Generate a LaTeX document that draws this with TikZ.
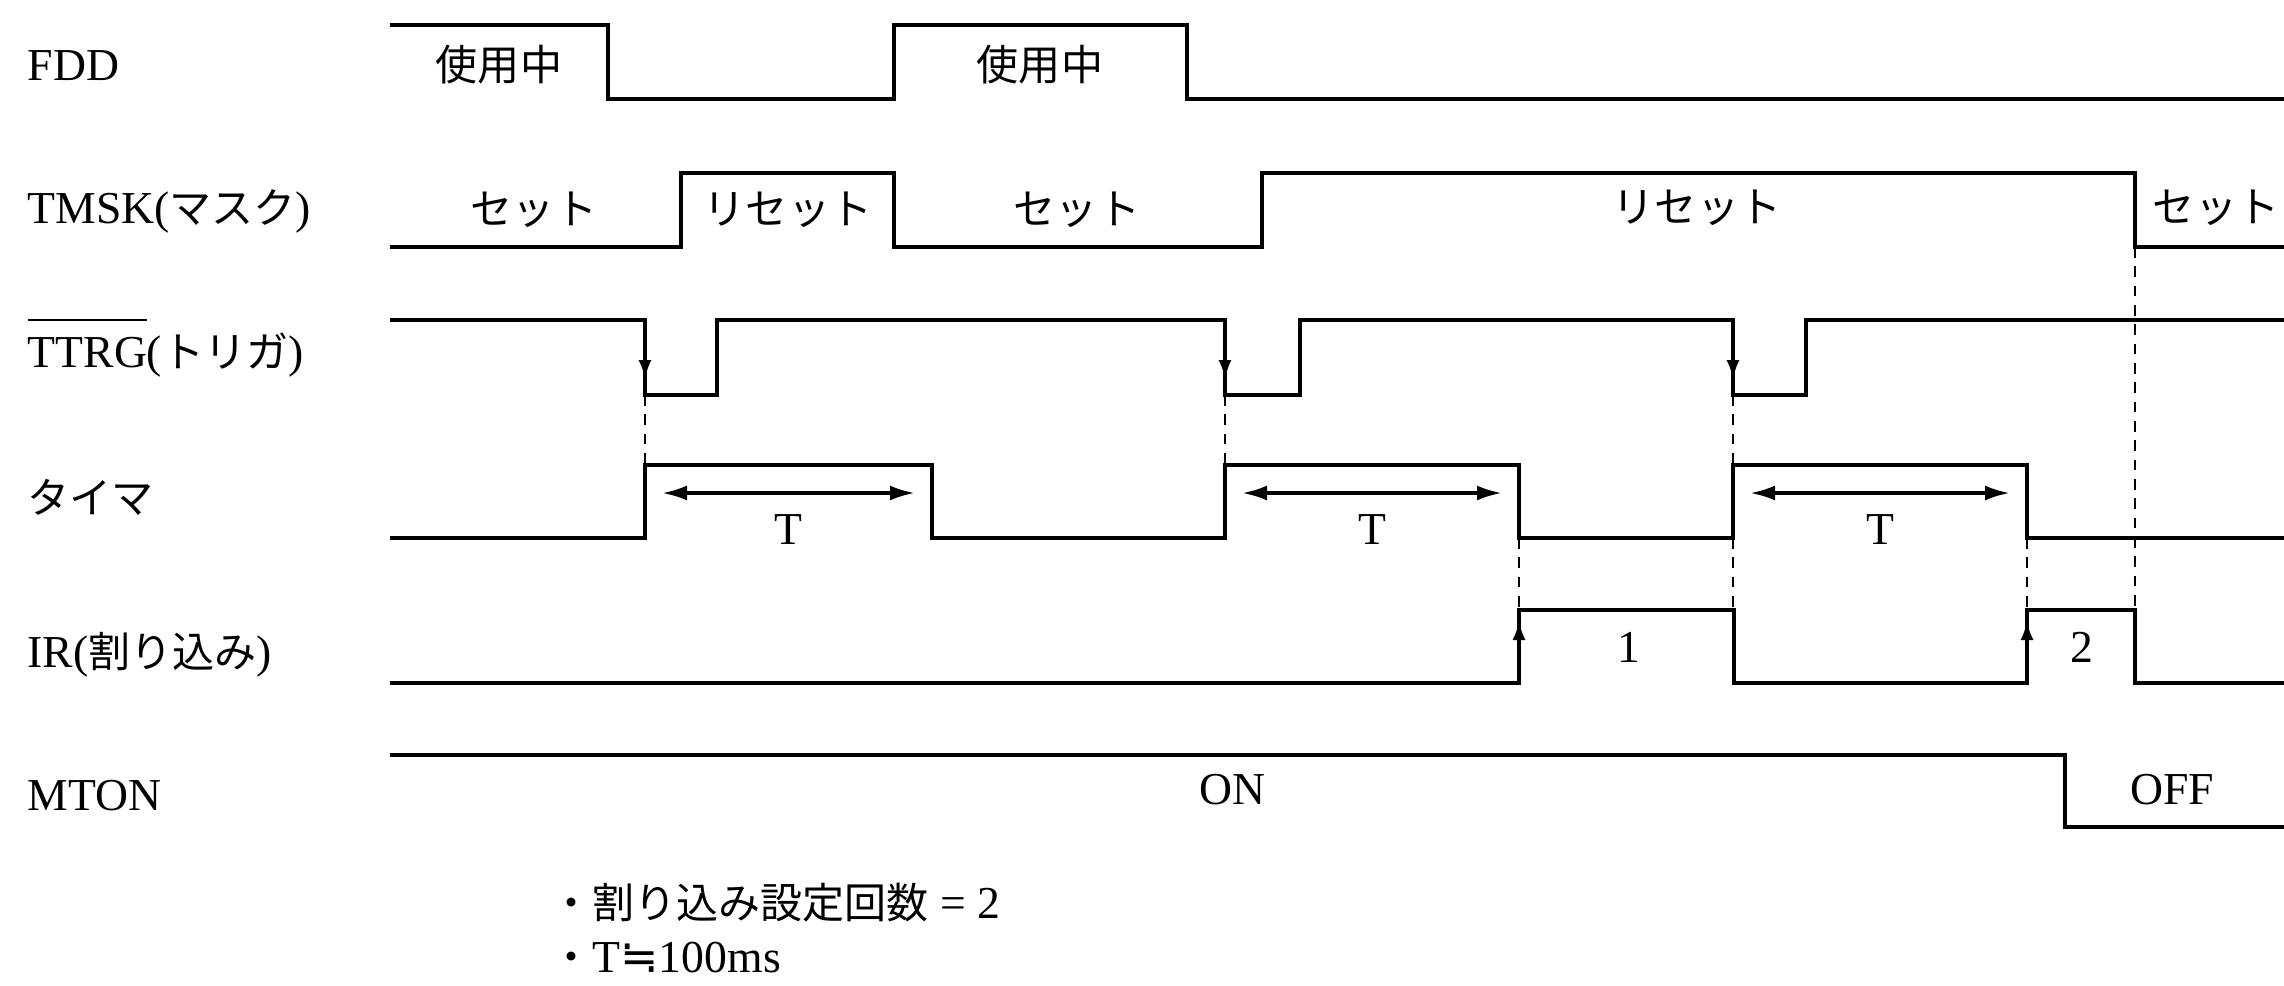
\documentclass[tikz,border=0pt]{standalone}
\usepackage{fontspec}
\setmainfont{Liberation Serif}
\newfontfamily\jp[Scale=0.92]{Noto Sans CJK JP}
\newfontfamily\sym{DejaVu Sans}
\usepackage{tikz}
\usetikzlibrary{arrows.meta,positioning}
\newcommand{\ovl}[1]{\vbox{\hrule height 0.6pt\kern 4.5pt\hbox{#1}}}

\begin{document}
\begin{tikzpicture}[
  x=0.1mm, y=-0.1mm,
  every node/.style={font=\fontsize{13}{15}\selectfont, inner sep=0pt},
  signame/.style={anchor=base west},
  level/.style={font=\fontsize{13}{15}\selectfont\jp},
  wave/.style={line width=1.2pt, line join=miter},
  guide/.style={line width=0.5pt, dash pattern=on 3pt off 2.5pt},
  period/.style={{Latex[length=2.5mm,width=1.5mm]}-{Latex[length=2.5mm,width=1.5mm]},
                 line width=1pt},
  edgetip/.style={-{Latex[length=2mm,width=1.3mm]}, line width=1.2pt},
  note/.style={anchor=west},
]
  \useasboundingbox (0,0) rectangle (2284,985);

  % Signal names.
  \node[signame] (fdd)  at (27,80)  {FDD};
  \node[signame] (tmsk) at (27,223) {TMSK({\jp マスク})};
  \node[signame] (ttrg) at (27,367) {\ovl{TTRG}({\jp トリガ})};
  \node[signame] (tmr)  at (27,513) {\jp タイマ};
  \node[signame] (ir)   at (27,667) {IR({\jp 割り込み})};
  \node[signame] (mton) at (27,810) {MTON};

  % Waveforms.
  \draw[wave] (390,25) -| (608,99) -| (894,25) -| (1187,99) -- (2284,99);
  \draw[wave] (390,247) -| (681,173) -| (894,247) -| (1262,173) -| (2135,247) -- (2284,247);
  \draw[wave] (390,320) -| (645,395) -| (717,320) -| (1225,395) -| (1300,320)
              -| (1733,395) -| (1806,320) -- (2284,320);
  \draw[wave] (390,538) -| (645,465) -| (932,538) -| (1225,465) -| (1519,538)
              -| (1733,465) -| (2027,538) -- (2284,538);
  \draw[wave] (390,683) -| (1519,610) -| (1734,683) -| (2027,610) -| (2135,683) -- (2284,683);
  \draw[wave] (390,755) -| (2065,827) -- (2284,827);

  % Levels.
  \node[level] (busy1) at (499,65)   {使用中};
  \node[level] (busy2) at (1040,65)  {使用中};
  \node[level] (set1)  at (534,210)  {セット};
  \node[level] (rst1)  at (788,210)  {リセット};
  \node[level] (set2)  at (1077,210) {セット};
  \node[level] (rst2)  at (1697,208) {リセット};
  \node[level] (set3)  at (2216,208) {セット};
  \node (irc1) at (1629,647) {1};
  \node (irc2) at (2082,647) {2};
  \node (on)   at (1232,790) {ON};
  \node (off)  at (2172,790) {OFF};

  % Trigger edges and timer periods.
  \foreach \x in {645,1225,1733} \draw[guide] (\x,395) -- (\x,465);
  \foreach \x in {1519,1733,2027} \draw[guide] (\x,538) -- (\x,610);
  \draw[guide] (2135,247) -- (2135,610);
  \foreach \x in {645,1225,1733} \draw[edgetip] (\x,330) -- (\x,380);
  \foreach \x in {1519,2027} \draw[edgetip] (\x,675) -- (\x,620);
  \foreach \a/\b/\n in {645/932/1,1225/1519/2,1733/2027/3} {
    \draw[period] (\a+17,493) -- (\b-17,493);
    \node (t\n) at ({(\a+\b)/2},530) {T};
  }

  % Notes.
  \node[note] (note1) at (550,903) {{\jp ・割り込み設定回数} = 2};
  \node[note, below=1.8mm of note1.south west, anchor=north west] (note2)
       {{\jp ・}T{\sym ≒}100ms};

\end{tikzpicture}
\end{document}
